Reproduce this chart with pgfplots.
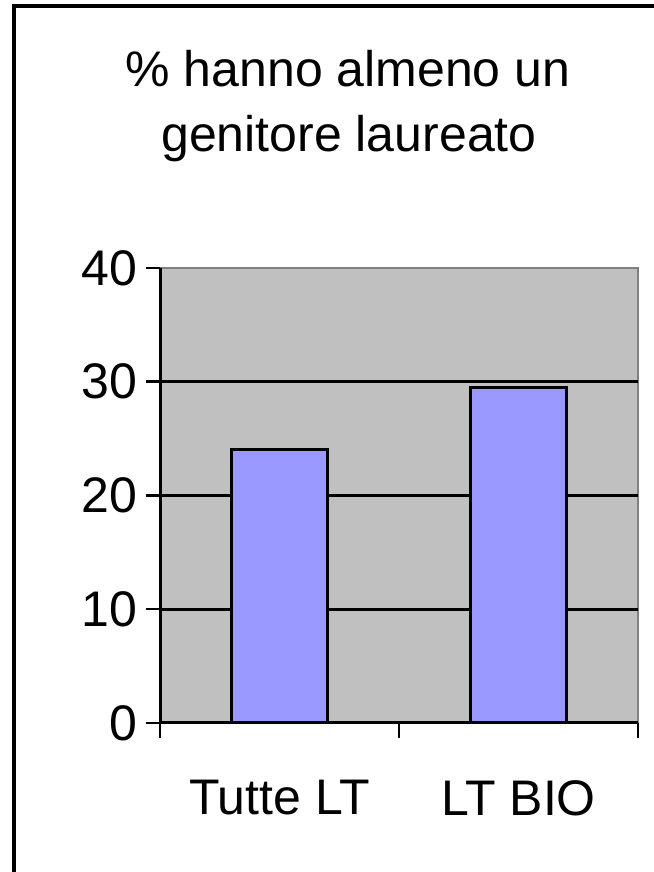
\documentclass[border=0pt]{standalone}
\usepackage{fontspec}
\setmainfont{Liberation Sans}
\usepackage{pgfplots}
\pgfplotsset{compat=1.18}
\definecolor{plotbg}{HTML}{C0C0C0}
\definecolor{barfill}{HTML}{9999FF}
\definecolor{bordergray}{HTML}{808080}
\begin{document}
\begin{tikzpicture}[x=1pt,y=1pt]
\useasboundingbox (0,0) rectangle (653,872);
\fill[white] (0,0) rectangle (653,872);
\draw[line width=3.5pt] (14,-20) -- (14,866) -- (700,866);
\node[anchor=base,font=\fontsize{50pt}{58pt}\selectfont] at (348,785) {\% hanno almeno un};
\node[anchor=base,font=\fontsize{50pt}{58pt}\selectfont] at (349,720) {genitore laureato};
\begin{axis}[
  at={(160pt,149pt)}, anchor=south west,
  scale only axis, width=478pt, height=455pt,
  xmin=-0.5, xmax=1.5, ymin=0, ymax=40,
  axis background/.style={fill=plotbg},
  axis line style={draw=bordergray, line width=2pt},
  xtick={0,1}, xticklabels={Tutte LT, LT BIO},
  ytick={0,10,20,30,40},
  tick align=outside, tick pos=left,
  tick style={draw=none},
  major tick length=14pt,
  /pgf/number format/assume math mode=true,
  tick label style={font=\fontsize{50pt}{58pt}\selectfont},
  xticklabel style={yshift=-40pt},
  yticklabel style={xshift=-5pt},
  clip=false,
]
\pgfplotsinvokeforeach{10,20,30}{
  \draw[black, line width=3pt] (axis cs:-0.5,#1) -- (axis cs:1.5,#1);
}
\addplot[ybar, bar width=0.405, fill=barfill, draw=black, line width=3pt] coordinates {(0,24) (1,29.5)};
\draw[black, line width=3pt] (axis cs:-0.5,40) -- (axis cs:-0.5,0) -- (axis cs:1.5,0);
\pgfplotsinvokeforeach{0,10,20,30,40}{
  \draw[black, line width=2.5pt] (axis cs:-0.5,#1) -- ++(-14pt,0pt);
}
\pgfplotsinvokeforeach{-0.5,0.5,1.5}{
  \draw[black, line width=2.5pt] (axis cs:#1,0) -- ++(0pt,-15pt);
}
\end{axis}
\end{tikzpicture}
\end{document}
